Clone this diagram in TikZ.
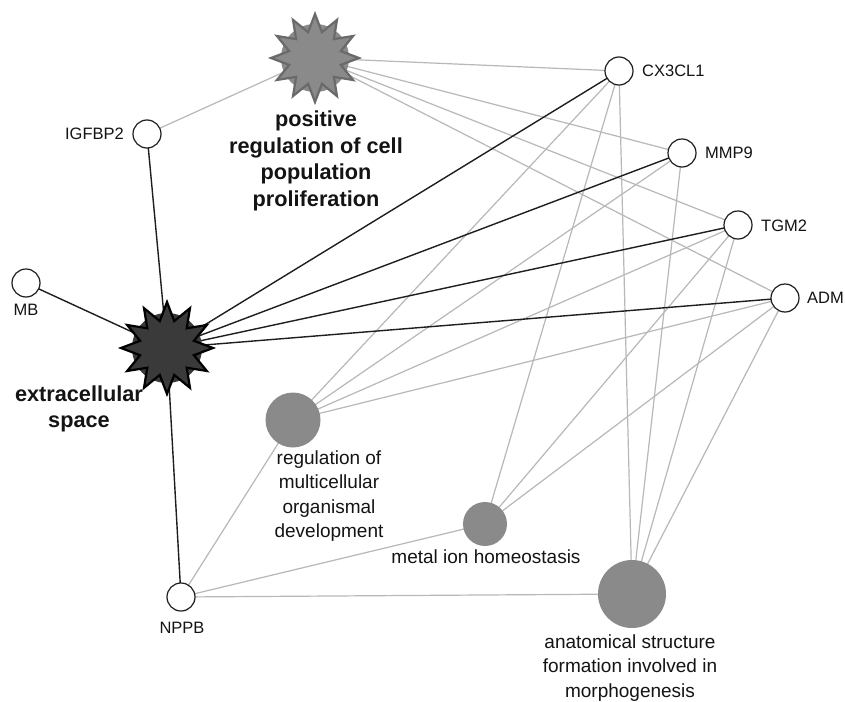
\documentclass[tikz,border=0pt]{standalone}
\usepackage{fontspec}
\setmainfont{Liberation Sans}
\usetikzlibrary{shapes.geometric}
\pgfdeclarelayer{back}
\pgfdeclarelayer{bg}
\pgfsetlayers{back,bg,main}
\definecolor{edgegrey}{HTML}{B8B8B8}
\definecolor{edgeblack}{HTML}{1E1E1E}
\definecolor{termgrey}{HTML}{8A8A8A}
\definecolor{stargreyline}{HTML}{6A6A6A}
\definecolor{darkterm}{HTML}{3A3A3A}
\definecolor{txt}{HTML}{141414}
\begin{document}
\begin{tikzpicture}[x=1pt,y=-1pt,
  gene/.style={circle, draw=edgeblack, fill=white, line width=1.2pt, minimum size=28pt, inner sep=0},
  term/.style={circle, fill=termgrey, minimum size=#1, inner sep=0},
  starshape/.style={star, star points=12, star point ratio=1.65, minimum size=#1, inner sep=0, line width=2.2pt},
  glabel/.style={inner sep=0, text=txt, font=\fontsize{16.5}{19}\selectfont},
  tlabel/.style={inner sep=0, align=center, text=txt, font=\fontsize{19}{24.5}\selectfont},
  blabel/.style={inner sep=0, align=center, text=txt, font=\bfseries\fontsize{21.7}{26.5}\selectfont},
  ge/.style={draw=edgegrey, line width=1.2pt},
  be/.style={draw=edgeblack, line width=1.4pt}]
\useasboundingbox (0,0) rectangle (845,701);
\begin{pgfonlayer}{back}
\fill[white] (0,0) rectangle (845,701);
\end{pgfonlayer}

% term nodes
\node[term=68pt] (posreg) at (315,58) {};
\node[starshape=88pt, fill=termgrey, draw=stargreyline] (posregstar) at (posreg) {};
\node[term=70pt, fill=darkterm] (ext) at (167,348) {};
\node[starshape=92pt, fill=darkterm, draw=black] (extstar) at (ext) {};
\node[term=55pt] (regdev) at (293,420) {};
\node[term=44pt] (metal) at (485,524) {};
\node[term=68pt] (anat) at (632,594) {};

% gene nodes
\node[gene] (cx) at (619,71) {};
\node[gene] (mmp) at (682,153) {};
\node[gene] (tgm) at (738,225) {};
\node[gene] (adm) at (785,298) {};
\node[gene] (igf) at (147,134) {};
\node[gene] (mb) at (26,283) {};
\node[gene] (nppb) at (181,597) {};

% labels
\node[glabel, anchor=west] (lcx) at (642,71) {CX3CL1};
\node[glabel, anchor=west] (lmmp) at (705,153) {MMP9};
\node[glabel, anchor=west] (ltgm) at (761,226) {TGM2};
\node[glabel, anchor=west] (ladm) at (807,298) {ADM};
\node[glabel, anchor=east] (ligf) at (124,134) {IGFBP2};
\node[glabel] (lmb) at (26,310) {MB};
\node[glabel] (lnppb) at (182,628) {NPPB};
\node[blabel] (lposreg) at (316,161) {positive\\regulation of cell\\population\\proliferation};
\node[blabel] (lext) at (79,409) {extracellular\\space};
\node[tlabel] (lregdev) at (329,496) {regulation of\\multicellular\\organismal\\development};
\node[tlabel] (lmetal) at (486,557) {metal ion homeostasis};
\node[tlabel] (lanat) at (630,668) {anatomical structure\\formation involved in\\morphogenesis};

% edges
\begin{pgfonlayer}{bg}
\draw[ge] (igf.center) -- (posreg.center);
\foreach \g in {cx,mmp,tgm,adm}{
  \draw[ge] (posreg.center) -- (\g.center);
  \draw[ge] (regdev.center) -- (\g.center);
  \draw[ge] (anat.center) -- (\g.center);
}
\foreach \g in {cx,tgm,adm}{
  \draw[ge] (metal.center) -- (\g.center);
}
\draw[ge] (nppb.center) -- (regdev.center);
\draw[ge] (nppb.center) -- (metal.center);
\draw[ge] (nppb.center) -- (anat.center);
\foreach \g in {igf,mb,nppb,cx,mmp,tgm,adm}{
  \draw[be] (ext.center) -- (\g.center);
}
\end{pgfonlayer}
\end{tikzpicture}
\end{document}
